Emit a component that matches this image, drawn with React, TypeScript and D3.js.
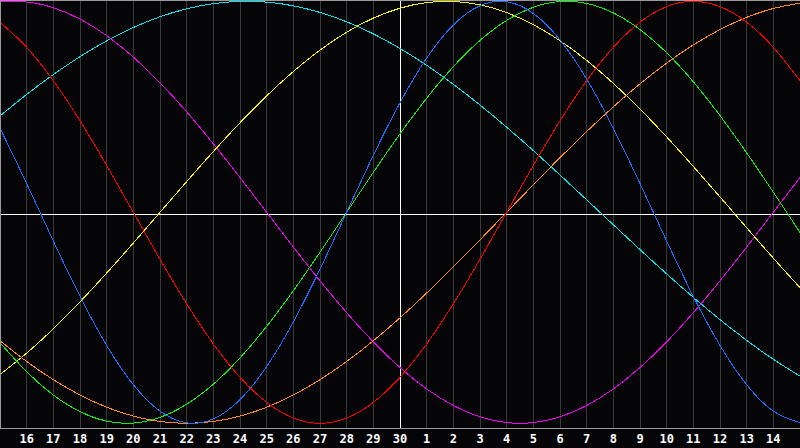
import React from 'react';
import * as d3 from 'd3';

// Day labels along the bottom (one per inner grid line)
const dayLabels = ['16','17','18','19','20','21','22','23','24','25','26','27','28','29','30','1','2','3','4','5','6','7','8','9','10','11','12','13','14'];
const todayLabel = '30';

// Cycle values, one per day (day 0 = left edge … day 30 = right edge), range -1..1
const physical = [0.3984,0.1362,-0.1362,-0.3984,-0.6311,-0.8170,-0.9423,-0.9977,-0.9791,-0.8879,-0.7308,-0.5196,-0.2698,0,0.2698,0.5196,0.7308,0.8879,0.9791,0.9977,0.9423,0.8170,0.6311,0.3984,0.1362,-0.1362,-0.3984,-0.6311,-0.8170,-0.9423,-0.9977];
const emotional = [0.9010,0.7818,0.6235,0.4339,0.2225,0,-0.2225,-0.4339,-0.6235,-0.7818,-0.9010,-0.9749,-1,-0.9749,-0.9010,-0.7818,-0.6235,-0.4339,-0.2225,0,0.2225,0.4339,0.6235,0.7818,0.9010,0.9749,1,0.9749,0.9010,0.7818,0.6235];
const intellectual = [-0.6182,-0.7557,-0.8660,-0.9450,-0.9898,-0.9989,-0.9718,-0.9096,-0.8146,-0.6901,-0.5406,-0.3717,-0.1893,0,0.1893,0.3717,0.5406,0.6901,0.8146,0.9096,0.9718,0.9989,0.9898,0.9450,0.8660,0.7557,0.6182,0.4582,0.2817,0.0951,-0.0951];
const intuitive = [0.9966,0.9966,0.9694,0.9158,0.8372,0.7357,0.6142,0.4759,0.3247,0.1646,0,-0.1646,-0.3247,-0.4759,-0.6142,-0.7357,-0.8372,-0.9158,-0.9694,-0.9966,-0.9966,-0.9694,-0.9158,-0.8372,-0.7357,-0.6142,-0.4759,-0.3247,-0.1646,0,0.1646];
const aesthetic = [-0.7687,-0.6673,-0.5518,-0.4245,-0.2881,-0.1456,0,0.1456,0.2881,0.4245,0.5518,0.6673,0.7687,0.8536,0.9203,0.9675,0.9940,0.9993,0.9834,0.9464,0.8894,0.8133,0.7199,0.6112,0.4894,0.3572,0.2174,0.0730,-0.0730,-0.2174,-0.3572];
const awareness = [-0.6088,-0.7071,-0.7934,-0.8660,-0.9239,-0.9659,-0.9914,-1,-0.9914,-0.9659,-0.9239,-0.8660,-0.7934,-0.7071,-0.6088,-0.5,-0.3827,-0.2588,-0.1305,0,0.1305,0.2588,0.3827,0.5,0.6088,0.7071,0.7934,0.8660,0.9239,0.9659,0.9914];
const spiritual = [0.4566,0.5586,0.6528,0.7378,0.8125,0.8757,0.9267,0.9646,0.9890,0.9996,0.9961,0.9786,0.9473,0.9028,0.8456,0.7765,0.6966,0.6068,0.5085,0.4031,0.2921,0.1769,0.0592,-0.0592,-0.1769,-0.2921,-0.4031,-0.5085,-0.6068,-0.6966,-0.7765];

const seriesList = [
  { name: 'spiritual', values: spiritual, color: '#00e4ec' },
  { name: 'intuitive', values: intuitive, color: '#f000f0' },
  { name: 'aesthetic', values: aesthetic, color: '#f4f000' },
  { name: 'awareness', values: awareness, color: '#ff8a18' },
  { name: 'intellectual', values: intellectual, color: '#10ee10' },
  { name: 'physical', values: physical, color: '#1a6cff' },
  { name: 'emotional', values: emotional, color: '#ff0000' },
];

const W = 800;
const H = 448;
const plotBottom = 428;

export default function App() {
  const nDays = physical.length - 1;
  const x = d3.scaleLinear().domain([0, nDays]).range([0, W]);
  const y = d3.scaleLinear().domain([-1, 1]).range([423.3, 1.3]);
  const line = d3
    .line<number>()
    .x((_, i) => x(i))
    .y((v) => y(v))
    .curve(d3.curveNatural);

  const px = (v: number) => Math.floor(v) + 0.5;
  const todayIdx = dayLabels.indexOf(todayLabel) + 1;
  const midY = plotBottom / 2;

  return (
    <svg
      width={W}
      height={H}
      style={{ position: 'fixed', left: 0, top: 0, background: '#050507' }}
    >
      <rect x={0} y={0} width={W} height={H} fill="#050507" />
      {dayLabels.map((lab, i) => (
        <line
          key={'g' + i}
          x1={px(x(i + 1))}
          x2={px(x(i + 1))}
          y1={0}
          y2={plotBottom}
          stroke="#3a3a3a"
          strokeWidth={1}
          shapeRendering="crispEdges"
        />
      ))}
      <line x1={px(x(todayIdx))} x2={px(x(todayIdx))} y1={0} y2={plotBottom} stroke="#ffffff" strokeWidth={1} shapeRendering="crispEdges" />
      <line x1={0} x2={W} y1={px(midY)} y2={px(midY)} stroke="#ffffff" strokeWidth={1} shapeRendering="crispEdges" />
      {seriesList.map((s) => (
        <path
          key={s.name}
          d={line(s.values) || ''}
          fill="none"
          stroke={s.color}
          strokeWidth={1}
          shapeRendering="crispEdges"
        />
      ))}
      <line x1={0} x2={W} y1={0.5} y2={0.5} stroke="#9a9a9a" strokeWidth={1} shapeRendering="crispEdges" />
      <line x1={0.5} x2={0.5} y1={0} y2={plotBottom} stroke="#9a9a9a" strokeWidth={1} shapeRendering="crispEdges" />
      <line x1={0} x2={W} y1={plotBottom + 0.5} y2={plotBottom + 0.5} stroke="#9a9a9a" strokeWidth={1} shapeRendering="crispEdges" />
      {dayLabels.map((lab, i) => (
        <text
          key={'t' + i}
          x={x(i + 1)}
          y={443}
          fill="#ffffff"
          fontFamily="'DejaVu Sans Mono', monospace"
          fontWeight="bold"
          fontSize={12}
          textAnchor="middle"
        >
          {lab}
        </text>
      ))}
    </svg>
  );
}
